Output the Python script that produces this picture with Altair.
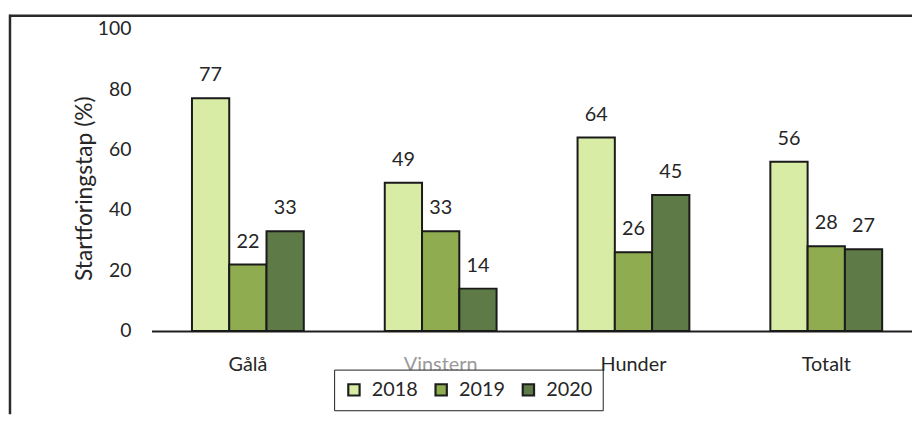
import altair as alt
import pandas as pd

categories = ["Gålå", "Vinstern", "Hunder", "Totalt"]
years = ["2018", "2019", "2020"]
v2018 = [77, 49, 64, 56]
v2019 = [22, 33, 26, 28]
v2020 = [33, 14, 45, 27]
colors = ["#d9eca6", "#8fad50", "#5e7a46"]
y_ticks = [0, 20, 40, 60, 80, 100]

rows = []
for i, c in enumerate(categories):
    for yr, vals in zip(years, [v2018, v2019, v2020]):
        rows.append({"Område": c, "År": yr, "Verdi": vals[i]})
df = pd.DataFrame(rows)

W, H = 912, 408
PX = 3.05
ymax = 100 + 19 / PX
ymin = -(H - 324) / PX

FONT = "Lato"
TXT = "#262626"

x_enc = alt.X(
    "Område:N",
    sort=categories,
    scale=alt.Scale(domain=categories, range=[144.75, 922.75], paddingInner=0.42, paddingOuter=0.21),
    axis=alt.Axis(
        title=None, orient="bottom", offset=-84, domain=True, domainColor="#1e1e1e",
        domainWidth=2, ticks=False, tickSize=0, labelPadding=24, labelAngle=0,
        labelFont=FONT, labelFontSize=20,
        labelColor=alt.condition("datum.value == 'Vinstern'", alt.value("#9a9a9a"), alt.value(TXT)),
    ),
)
xo_enc = alt.XOffset("År:N", sort=years, scale=alt.Scale(paddingInner=0, paddingOuter=0))
y_scale = alt.Scale(domain=[ymin, ymax], nice=False, zero=False)

bars = alt.Chart(df).mark_bar(stroke="#1a1a1a", strokeWidth=2).encode(
    x=x_enc,
    xOffset=xo_enc,
    y=alt.Y(
        "Verdi:Q", scale=y_scale,
        axis=alt.Axis(
            values=y_ticks, domain=False, ticks=False, grid=False, offset=-128, labelPadding=4,
            labelFont=FONT, labelFontSize=19.5, labelColor=TXT,
            title="Startforingstap (%)", titleFont=FONT, titleFontSize=23, titleFontWeight="normal",
            titleColor=TXT, titleX=-51, titleY=180, titleAngle=270, titleBaseline="middle",
            titleAlign="center",
        ),
    ),
    y2=alt.datum(0),
    color=alt.Color(
        "År:N", sort=years, scale=alt.Scale(domain=years, range=colors),
        legend=alt.Legend(
            orient="none", legendX=329, legendY=363, direction="horizontal", title=None,
            fillColor="white", strokeColor="#1e1e1e", padding=10, columnPadding=12,
            labelOffset=8, symbolType="square", symbolSize=130, symbolStrokeColor="#1e1e1e",
            symbolStrokeWidth=2.2, symbolOpacity=1, labelFont=FONT, labelFontSize=20,
            labelColor=TXT,
        ),
    ),
)

labels = alt.Chart(df).mark_text(
    dy=-17, baseline="alphabetic", font=FONT, fontSize=20, color=TXT
).encode(
    x=alt.X("Område:N", sort=categories),
    xOffset=alt.XOffset("År:N", sort=years),
    y=alt.Y("Verdi:Q"),
    text=alt.Text("Verdi:Q"),
)

frame_df = pd.DataFrame({"k": [0]})
top_border = alt.Chart(frame_df).mark_rule(color="#2a2a2a", strokeWidth=2.5).encode(
    x=alt.value(1), x2=alt.value(W), y=alt.value(6)
)
left_border = alt.Chart(frame_df).mark_rule(color="#2a2a2a", strokeWidth=2.5).encode(
    x=alt.value(2), y=alt.value(5), y2=alt.value(H)
)

chart = alt.layer(bars, labels, top_border, left_border).properties(
    width=W, height=H, autosize=alt.AutoSizeParams(type="none"), padding=0
).configure_view(stroke=None)

chart.save("out.html", embed_options={"renderer": "svg", "actions": False})
